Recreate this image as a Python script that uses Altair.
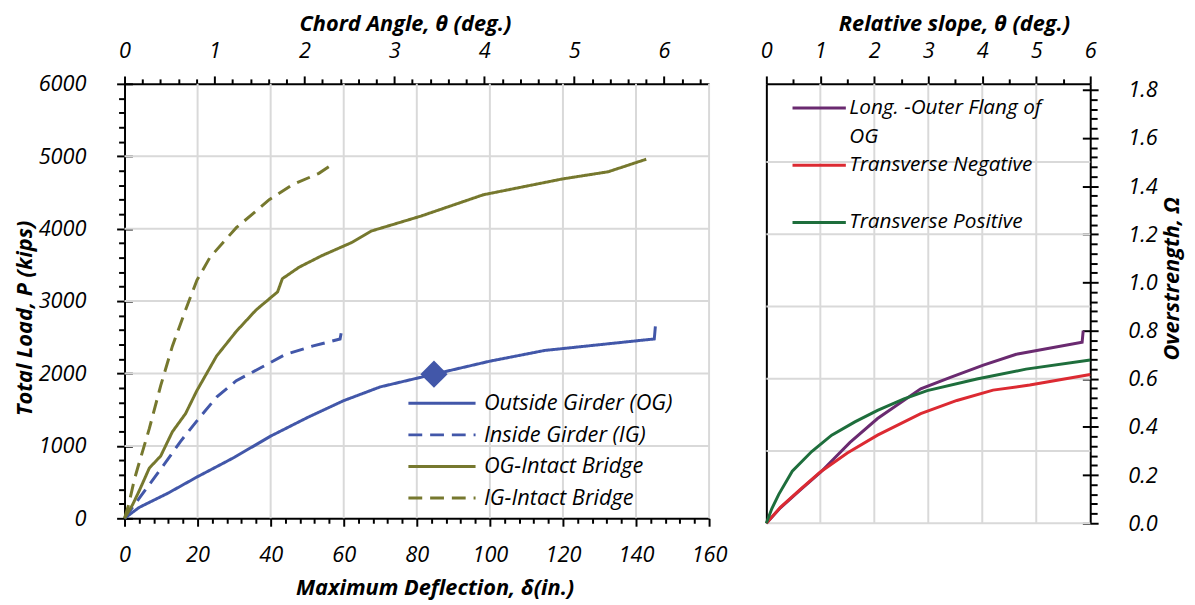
import altair as alt
import pandas as pd

# ---------------- left panel: total load vs maximum deflection ----------------
series_left = ["Outside Girder (OG)", "Inside Girder (IG)", "OG-Intact Bridge", "IG-Intact Bridge"]

og_defl = [0, 4, 12, 20, 30, 40, 50, 60, 70, 84.7, 100, 115, 145, 145.3]
og_load = [0, 150, 350, 575, 840, 1135, 1390, 1625, 1815, 1990, 2170, 2318, 2477, 2650]

ig_defl = [0, 4.5, 10.8, 15.3, 20.3, 25.2, 30.6, 37.4, 44, 51.4, 59, 59.6]
ig_load = [0, 310, 740, 1060, 1377, 1673, 1900, 2082, 2263, 2377, 2477, 2641]

ogi_defl = [0, 2.2, 4, 6.8, 9.9, 13.1, 16.7, 19.8, 25.2, 30.6, 36, 41.9, 43.2, 47.8,
            54, 62.2, 67.6, 81.1, 98.2, 119.8, 132.4, 142.8]
ogi_load = [0, 187, 377, 695, 860, 1195, 1445, 1763, 2241, 2582, 2877, 3127, 3309, 3468,
            3627, 3809, 3968, 4173, 4468, 4686, 4786, 4959]

igi_defl = [0, 1.2, 2.7, 3.6, 6.8, 9.9, 13.1, 16.7, 19.8, 23.4, 30.6, 36.5, 39.6, 45.9, 53.2, 55.9]
igi_load = [0, 200, 536, 695, 1241, 1832, 2377, 2877, 3286, 3605, 4014, 4264, 4400, 4605, 4764, 4855]

marker_defl = [84.7]
marker_load = [1990]

DEFL_DOMAIN = [0, 160]
LOAD_DOMAIN = [0, 6000]
CHORD_DOMAIN = [0, 6.5]

defl_major = [0, 20, 40, 60, 80, 100, 120, 140, 160]
defl_minor = [v for v in range(0, 161, 4) if v % 20 != 0]
defl_grid = [20, 40, 60, 80, 100, 120, 140, 160]
load_major = [0, 1000, 2000, 3000, 4000, 5000, 6000]
load_minor = [v for v in range(0, 6001, 200) if v % 1000 != 0]
load_grid = [1000, 2000, 3000, 4000, 5000]
chord_major = [0, 1, 2, 3, 4, 5, 6]
chord_minor = [round(v * 0.2, 1) for v in range(0, 33) if v % 5 != 0]

# ---------------- right panel: overstrength vs relative slope ----------------
series_right = ["Long. -Outer Flang of OG", "Transverse Negative", "Transverse Positive"]
# legend rows as in the original (long label wraps onto a second row, empty row before the last)
legend_rows_right = ["Long. -Outer Flang of OG", "wrap", "Transverse Negative", "gap",
                     "Transverse Positive"]

long_slope = [0, 0.26, 0.63, 1.0, 1.55, 2.06, 2.86, 3.41, 4.02, 4.63, 5.85, 5.87]
long_omega = [0, 0.064, 0.139, 0.211, 0.336, 0.435, 0.558, 0.606, 0.657, 0.702, 0.752, 0.80]

neg_slope = [0, 0.26, 0.63, 1.0, 1.5, 2.06, 2.86, 3.53, 4.2, 4.88, 6.0]
neg_omega = [0, 0.066, 0.141, 0.213, 0.292, 0.366, 0.455, 0.51, 0.553, 0.574, 0.618]

pos_slope = [0, 0.1, 0.23, 0.48, 0.84, 1.21, 1.64, 2.06, 2.55, 2.98, 3.9, 4.81, 6.0]
pos_omega = [0, 0.06, 0.12, 0.216, 0.298, 0.366, 0.421, 0.469, 0.517, 0.551, 0.599, 0.640, 0.678]

SLOPE_DOMAIN = [0, 6]
OMEGA_DOMAIN = [0, 1.825]

slope_major = [0, 1, 2, 3, 4, 5, 6]
slope_minor = [0.5, 1.5, 2.5, 3.5, 4.5, 5.5]
slope_grid = [1, 2, 3, 4, 5]
omega_major = [0, 0.2, 0.4, 0.6, 0.8, 1.0, 1.2, 1.4, 1.6, 1.8]
omega_minor = [round(i * 0.04, 2) for i in range(0, 46) if i % 5 != 0]
omega_grid = [0, 0.3, 0.6, 0.9, 1.2, 1.5]

# ---------------- build tables ----------------
rows = []
for name, xs, ys in zip(series_left, [og_defl, ig_defl, ogi_defl, igi_defl],
                        [og_load, ig_load, ogi_load, igi_load]):
    for i, (x, y) in enumerate(zip(xs, ys)):
        rows.append({"series": name, "defl": x, "load": y, "order": i})
left_df = pd.DataFrame(rows)

rows = []
for name, xs, ys in zip(series_right, [long_slope, neg_slope, pos_slope],
                        [long_omega, neg_omega, pos_omega]):
    for i, (x, y) in enumerate(zip(xs, ys)):
        rows.append({"series": name, "slope": x, "omega": y, "order": i})
right_df = pd.DataFrame(rows)

BLUE = "#4257A9"
OLIVE = "#76782E"
PURPLE = "#6A2A70"
RED = "#DC2A32"
GREEN = "#1E6E3C"
GRID = "#D9D9D9"
NONE = "rgba(0,0,0,0)"

FONT = "Open Sans"

# ---------------- left panel ----------------
XL = alt.Scale(domain=DEFL_DOMAIN, nice=False, zero=False)
YL = alt.Scale(domain=LOAD_DOMAIN, nice=False, zero=False)
TL = alt.Scale(domain=CHORD_DOMAIN, nice=False, zero=False)


def leg_left():
    return alt.Legend(orient="none", legendX=286, legendY=313, title=None,
                      symbolType="stroke", symbolSize=4624, symbolStrokeWidth=3,
                      clipHeight=21, rowPadding=9, padding=0, labelOffset=7,
                      labelLimit=400, labelFont=FONT, labelFontSize=22,
                      labelFontStyle="italic", labelColor="black")


def tick_layer(df, xenc, yenc):
    return alt.Chart(df).mark_point(opacity=0).encode(x=xenc, y=yenc)


vgrid_left = alt.Chart(pd.DataFrame({
    "defl": defl_grid,
    "lo": [LOAD_DOMAIN[0]] * len(defl_grid),
    "hi": [LOAD_DOMAIN[1]] * len(defl_grid),
})).mark_rule(color=GRID, strokeWidth=2).encode(
    x=alt.X("defl:Q", scale=XL),
    y=alt.Y("lo:Q", scale=YL),
    y2="hi:Q",
)
hgrid_left = alt.Chart(pd.DataFrame({
    "load": load_grid,
    "lo": [DEFL_DOMAIN[0]] * len(load_grid),
    "hi": [DEFL_DOMAIN[1]] * len(load_grid),
})).mark_rule(color=GRID, strokeWidth=2).encode(
    y=alt.Y("load:Q", scale=YL),
    x=alt.X("lo:Q", scale=XL),
    x2="hi:Q",
)

left_lines = alt.Chart(left_df).mark_line(strokeWidth=3).encode(
    x=alt.X("defl:Q", scale=XL,
            axis=alt.Axis(orient="bottom", values=defl_major, grid=False, tickSize=8,
                          format="d", labelPadding=19, title="Maximum Deflection, δ(in.)",
                          titlePadding=12, titleX=314)),
    y=alt.Y("load:Q", scale=YL,
            axis=alt.Axis(orient="left", values=load_major, grid=False, tickSize=8,
                          format="d", labelPadding=31, title="Total Load, P (kips)",
                          titlePadding=2, titleY=237)),
    color=alt.Color("series:N", scale=alt.Scale(domain=series_left,
                                                range=[BLUE, BLUE, OLIVE, OLIVE]),
                    legend=leg_left()),
    strokeDash=alt.StrokeDash("series:N",
                              scale=alt.Scale(domain=series_left,
                                              range=[[1, 0], [14, 8], [1, 0], [14, 8]]),
                              legend=leg_left()),
    order="order:Q",
)

marker = alt.Chart(pd.DataFrame({"defl": marker_defl, "load": marker_load})).mark_point(
    shape="diamond", filled=True, size=760, color=BLUE, opacity=1
).encode(
    x=alt.X("defl:Q", scale=XL),
    y=alt.Y("load:Q", scale=YL),
)

left_core = alt.layer(vgrid_left, hgrid_left, left_lines, marker)

bottom_minor = tick_layer(
    pd.DataFrame({"defl": defl_minor}),
    alt.X("defl:Q", scale=XL,
          axis=alt.Axis(orient="bottom", values=defl_minor, labels=False, domain=False,
                        grid=False, tickSize=5, title=None)),
    alt.Y(datum=0, scale=YL, axis=None),
)
left_minor = tick_layer(
    pd.DataFrame({"load": load_minor}),
    alt.X(datum=0, scale=XL, axis=None),
    alt.Y("load:Q", scale=YL,
          axis=alt.Axis(orient="left", values=load_minor, labels=False, domain=False,
                        grid=False, tickSize=6, title=None)),
)
left_inner = tick_layer(
    pd.DataFrame({"load": load_major}),
    alt.X(datum=0, scale=XL, axis=None),
    alt.Y("load:Q", scale=YL,
          axis=alt.Axis(orient="left", values=load_major, labels=False, domain=False,
                        grid=False, tickSize=8, offset=-8, title=None)),
)
top_major = tick_layer(
    pd.DataFrame({"theta": chord_major}),
    alt.X("theta:Q", scale=TL,
          axis=alt.Axis(orient="top", values=chord_major, grid=False, tickSize=8,
                        format="d", labelPadding=14, title="Chord Angle, θ (deg.)",
                        titlePadding=4, titleX=284)),
    alt.Y(datum=0, scale=YL, axis=None),
)
top_minor = tick_layer(
    pd.DataFrame({"theta": chord_minor}),
    alt.X("theta:Q", scale=TL,
          axis=alt.Axis(orient="top", values=chord_minor, labels=False, domain=False,
                        grid=False, tickSize=5, title=None)),
    alt.Y(datum=0, scale=YL, axis=None),
)

left = alt.layer(left_core, bottom_minor, left_minor, left_inner, top_major,
                 top_minor).resolve_scale(
    x="independent", y="independent"
).properties(width=592, height=440)

# ---------------- right panel ----------------
XR = alt.Scale(domain=SLOPE_DOMAIN, nice=False, zero=False)
YR = alt.Scale(domain=OMEGA_DOMAIN, nice=False, zero=False)

label_expr = ("datum.label == 'Long. -Outer Flang of OG' ? 'Long. -Outer Flang of'"
              " : datum.label == 'wrap' ? 'OG' : datum.label == 'gap' ? '' : datum.label")

vgrid_right = alt.Chart(pd.DataFrame({
    "slope": slope_grid,
    "lo": [OMEGA_DOMAIN[0]] * len(slope_grid),
    "hi": [OMEGA_DOMAIN[1]] * len(slope_grid),
})).mark_rule(color=GRID, strokeWidth=2).encode(
    x=alt.X("slope:Q", scale=XR),
    y=alt.Y("lo:Q", scale=YR),
    y2="hi:Q",
)
hgrid_right = alt.Chart(pd.DataFrame({
    "omega": omega_grid,
    "lo": [SLOPE_DOMAIN[0]] * len(omega_grid),
    "hi": [SLOPE_DOMAIN[1]] * len(omega_grid),
})).mark_rule(color=GRID, strokeWidth=2).encode(
    y=alt.Y("omega:Q", scale=YR),
    x=alt.X("lo:Q", scale=XR),
    x2="hi:Q",
)

right_lines = alt.Chart(right_df).mark_line(strokeWidth=3).encode(
    x=alt.X("slope:Q", scale=XR,
            axis=alt.Axis(orient="top", values=slope_major, grid=False, tickSize=8,
                          format="d", labelPadding=14, title="Relative slope, θ (deg.)",
                          titlePadding=4, titleX=190)),
    y=alt.Y("omega:Q", scale=YR,
            axis=alt.Axis(orient="right", values=omega_major, grid=False, tickSize=8,
                          format=".1f", labelPadding=30, title="Overstrength, Ω",
                          titleAngle=270, titleBaseline="top", titlePadding=5,
                          titleY=197)),
    color=alt.Color("series:N",
                    scale=alt.Scale(domain=legend_rows_right,
                                    range=[PURPLE, NONE, RED, NONE, GREEN]),
                    legend=alt.Legend(orient="none", legendX=25, legendY=14, title=None,
                                      symbolType="stroke", symbolSize=2916,
                                      symbolStrokeWidth=3, clipHeight=21, rowPadding=7,
                                      padding=0, labelOffset=2,
                                      labelLimit=400, labelExpr=label_expr,
                                      labelFont=FONT, labelFontSize=21,
                                      labelFontStyle="italic", labelColor="black")),
    order="order:Q",
)

right_core = alt.layer(vgrid_right, hgrid_right, right_lines)

right_left_axis = tick_layer(
    pd.DataFrame({"omega": omega_grid}),
    alt.X(datum=0, scale=XR, axis=None),
    alt.Y("omega:Q", scale=YR,
          axis=alt.Axis(orient="left", values=omega_grid, labels=False, ticks=False,
                        domain=True, grid=False, title=None)),
)
right_top_minor = tick_layer(
    pd.DataFrame({"slope": slope_minor}),
    alt.X("slope:Q", scale=XR,
          axis=alt.Axis(orient="top", values=slope_minor, labels=False, domain=False,
                        grid=False, tickSize=5, title=None)),
    alt.Y(datum=0, scale=YR, axis=None),
)
right_minor = tick_layer(
    pd.DataFrame({"omega": omega_minor}),
    alt.X(datum=0, scale=XR, axis=None),
    alt.Y("omega:Q", scale=YR,
          axis=alt.Axis(orient="right", values=omega_minor, labels=False, domain=False,
                        grid=False, tickSize=7, title=None)),
)
right_inner = tick_layer(
    pd.DataFrame({"omega": omega_major}),
    alt.X(datum=0, scale=XR, axis=None),
    alt.Y("omega:Q", scale=YR,
          axis=alt.Axis(orient="right", values=omega_major, labels=False, domain=False,
                        grid=False, tickSize=8, offset=-8, title=None)),
)

right = alt.layer(right_core, right_left_axis, right_top_minor, right_minor,
                  right_inner).resolve_scale(
    x="independent", y="independent"
).properties(width=328, height=445)

chart = alt.hconcat(left, right, spacing=58, bounds="flush").resolve_scale(
    color="independent", strokeDash="independent"
).properties(
    padding={"left": 5, "top": 1, "right": 4, "bottom": 4}
).configure_view(stroke=None).configure_axis(
    labelFont=FONT, labelFontSize=22, labelFontStyle="italic", labelColor="black",
    titleFont=FONT, titleFontSize=22, titleFontStyle="italic", titleFontWeight="bold",
    titleColor="black", domainColor="black", domainWidth=2, tickColor="black",
    tickWidth=2, labelFlush=False, labelOverlap=False
)

chart.save("out.html", embed_options={"renderer": "svg", "actions": False})
